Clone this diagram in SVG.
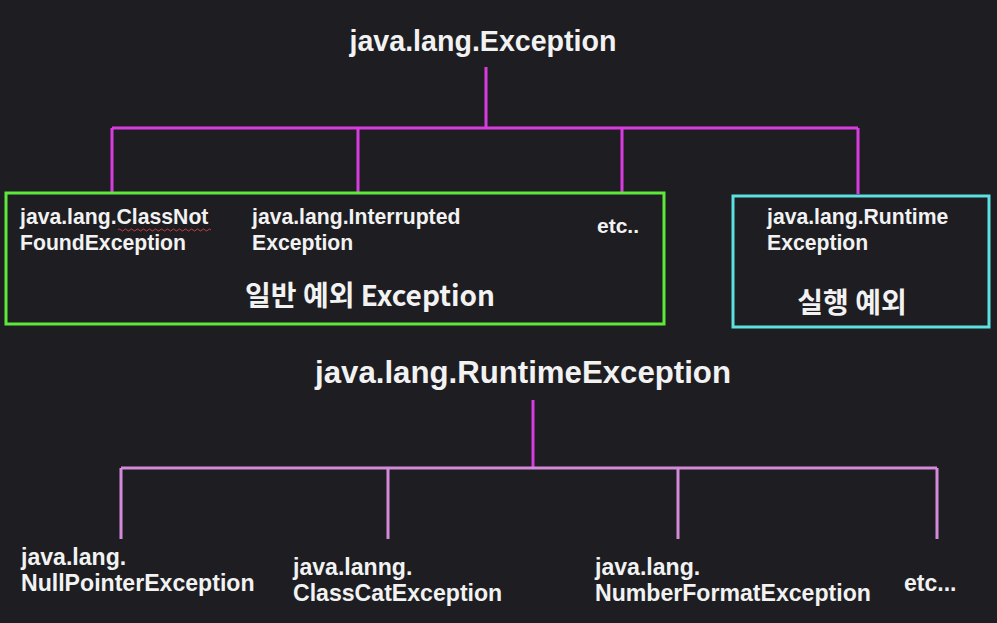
<svg xmlns="http://www.w3.org/2000/svg" width="997" height="623" viewBox="0 0 997 623">
<style>
.t{font-family:"Liberation Sans",Arial,"Noto Sans CJK KR",sans-serif;font-weight:bold;fill:#f2f2f2}
.k{font-family:"Noto Sans CJK KR","Liberation Sans",sans-serif;font-weight:bold;fill:#f2f2f2}
.m{stroke:#d93be0;stroke-width:3;fill:none}
.p{stroke:#d38ad9;stroke-width:3;fill:none}
</style>
<rect width="997" height="623" fill="#1e1e22"/>
<g id="connectors">
<path class="m" d="M486 67V128M112 128H858M112 128V192M358 128V192M622 128V192M858 128V194"/>
<path class="m" d="M533 400V468"/>
<path class="p" d="M121 468H937M121 468V539M388 468V539M678 468V539M937 468V539"/>
</g>
<g id="root"><text class="t" x="483" y="51" font-size="28.6" text-anchor="middle">java.lang.Exception</text></g>
<g id="checked">
<rect x="6" y="193" width="658" height="131" fill="none" stroke="#5ee83a" stroke-width="3"/>
<text class="t" x="20" y="224" font-size="21.2">java.lang.ClassNot</text>
<path d="M118 230q1.5-2 3 0t3 0t3 0t3 0t3 0t3 0t3 0t3 0t3 0t3 0t3 0t3 0t3 0t3 0t3 0t3 0t3 0t3 0t3 0t3 0t3 0t3 0t3 0t3 0t3 0t3 0t3 0t3 0t3 0t3 0t3 0" fill="none" stroke="#c04040" stroke-width="1"/>
<text class="t" x="20" y="250" font-size="21.2">FoundException</text>
<text class="t" x="252" y="224" font-size="21.2">java.lang.Interrupted</text>
<text class="t" x="252" y="250" font-size="21.2">Exception</text>
<text class="t" x="597" y="233" font-size="21">etc..</text>
<text class="k" x="370" y="306" font-size="28" text-anchor="middle">일반 예외 Exception</text>
</g>
<g id="runtime">
<rect x="733" y="196" width="256" height="131" fill="none" stroke="#5ce0e0" stroke-width="3"/>
<text class="t" x="767" y="224" font-size="21.2">java.lang.Runtime</text>
<text class="t" x="767" y="250" font-size="21.2">Exception</text>
<text class="k" x="852" y="313" font-size="28" text-anchor="middle">실행 예외</text>
</g>
<g id="runtime-root"><text class="t" x="523" y="383" font-size="31.2" text-anchor="middle">java.lang.RuntimeException</text></g>
<g id="npe"><text class="t" x="21" y="565" font-size="23.1">java.lang.</text><text class="t" x="21" y="591" font-size="23.1">NullPointerException</text></g>
<g id="cce"><text class="t" x="293" y="575" font-size="23.1">java.lanng.</text><text class="t" x="293" y="601" font-size="23.1">ClassCatException</text></g>
<g id="nfe"><text class="t" x="595" y="575" font-size="23.1">java.lang.</text><text class="t" x="595" y="601" font-size="23.1">NumberFormatException</text></g>
<g id="etc2"><text class="t" x="904" y="591" font-size="23">etc...</text></g>
</svg>
